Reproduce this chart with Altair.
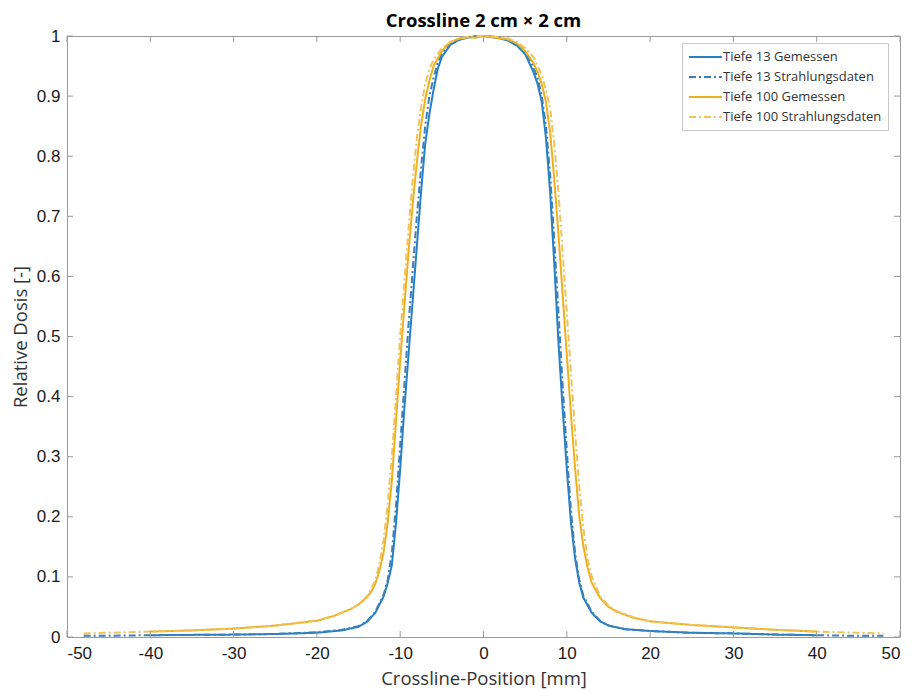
import altair as alt
import pandas as pd

title_text = "Crossline 2 cm × 2 cm"
x_title = "Crossline-Position [mm]"
y_title = "Relative Dosis [-]"

series_names = ["Tiefe 13 Gemessen", "Tiefe 13 Strahlungsdaten",
                "Tiefe 100 Gemessen", "Tiefe 100 Strahlungsdaten"]
series_colors = ["#2580c6", "#3d80b8", "#edb120", "#f0c25a"]

x_ticks = [-50, -40, -30, -20, -10, 0, 10, 20, 30, 40, 50]
y_ticks = [0, 0.1, 0.2, 0.3, 0.4, 0.5, 0.6, 0.7, 0.8, 0.9, 1]

# Tiefe 13 Gemessen
t13_mess_x = [-40, -30, -25, -20, -17, -15, -14, -13, -12, -11.5, -11, -10.5, -10, -9.5, -9, -8.5,
              -8, -7.5, -7, -6.5, -6, -5.5, -5, -4, -3, -2, -1, 0, 1, 2, 3, 4, 5, 5.5, 6, 6.5,
              7, 7.5, 8, 8.5, 9, 9.5, 10, 10.5, 11, 11.5, 12, 13, 14, 15, 17, 20, 25, 30, 35, 40]
t13_mess_y = [0.003, 0.004, 0.005, 0.007, 0.011, 0.017, 0.025, 0.04, 0.067, 0.09, 0.12, 0.19, 0.28, 0.38, 0.47, 0.56,
              0.65, 0.74, 0.82, 0.87, 0.91, 0.945, 0.965, 0.985, 0.993, 0.997, 0.999, 1.0, 0.998, 0.996, 0.992, 0.984, 0.97, 0.955, 0.94, 0.92,
              0.89, 0.83, 0.74, 0.62, 0.49, 0.38, 0.28, 0.19, 0.13, 0.09, 0.065, 0.04, 0.026, 0.019, 0.013, 0.01, 0.007, 0.006, 0.004, 0.003]

# Tiefe 13 Strahlungsdaten
t13_calc_x = [-48, -45, -40, -30, -25, -20, -17, -15, -14, -13, -12, -11.5, -11, -10.5, -10, -9.5, -9, -8.5,
              -8, -7.5, -7, -6.5, -6, -5.5, -5, -4, -3, -2, -1, 0, 1, 2, 3, 4, 5, 5.5, 6, 6.5,
              7, 7.5, 8, 8.5, 9, 9.5, 10, 10.5, 11, 11.5, 12, 13, 14, 15, 17, 20, 25, 30, 35, 40, 45, 48]
t13_calc_y = [0.002, 0.002, 0.003, 0.004, 0.005, 0.008, 0.012, 0.018, 0.026, 0.042, 0.07, 0.095, 0.14, 0.22, 0.32, 0.42, 0.52, 0.61,
              0.7, 0.78, 0.85, 0.9, 0.93, 0.955, 0.97, 0.988, 0.995, 0.998, 1.0, 1.0, 0.999, 0.997, 0.994, 0.987, 0.974, 0.962, 0.948, 0.93,
              0.9, 0.85, 0.77, 0.66, 0.54, 0.42, 0.31, 0.21, 0.14, 0.095, 0.068, 0.042, 0.027, 0.019, 0.013, 0.01, 0.007, 0.006, 0.004, 0.003, 0.002, 0.002]

# Tiefe 100 Gemessen
t100_mess_x = [-40, -35, -30, -25, -20, -18, -16, -15, -14, -13.5, -13, -12.5, -12, -11.5, -11, -10.5, -10, -9.5,
               -9, -8.5, -8, -7.5, -7, -6.5, -6, -5, -4, -3, -2, -1, 0, 1, 2, 3, 4, 5, 6, 6.5,
               7, 7.5, 8, 8.5, 9, 9.5, 10, 10.5, 11, 11.5, 12, 12.5, 13, 14, 15, 16, 18, 20, 25, 30, 35, 40]
t100_mess_y = [0.009, 0.011, 0.014, 0.019, 0.027, 0.035, 0.046, 0.054, 0.066, 0.075, 0.088, 0.11, 0.14, 0.19, 0.26, 0.36, 0.46, 0.55,
               0.64, 0.72, 0.79, 0.85, 0.895, 0.925, 0.95, 0.975, 0.99, 0.995, 0.998, 0.997, 1.0, 0.998, 0.996, 0.994, 0.988, 0.975, 0.955, 0.94,
               0.92, 0.89, 0.84, 0.76, 0.67, 0.57, 0.47, 0.37, 0.28, 0.2, 0.15, 0.115, 0.09, 0.065, 0.05, 0.042, 0.032, 0.026, 0.02, 0.016, 0.012, 0.009]

# Tiefe 100 Strahlungsdaten
t100_calc_x = [-48, -45, -40, -35, -30, -25, -20, -18, -16, -15, -14, -13.5, -13, -12.5, -12, -11.5, -11, -10.5, -10, -9.5,
               -9, -8.5, -8, -7.5, -7, -6.5, -6, -5, -4, -3, -2, -1, 0, 1, 2, 3, 4, 5, 6, 6.5,
               7, 7.5, 8, 8.5, 9, 9.5, 10, 10.5, 11, 11.5, 12, 12.5, 13, 14, 15, 16, 18, 20, 25, 30, 35, 40, 45, 48]
t100_calc_y = [0.006, 0.007, 0.009, 0.011, 0.014, 0.019, 0.028, 0.035, 0.046, 0.054, 0.068, 0.079, 0.095, 0.12, 0.16, 0.22, 0.3, 0.4, 0.5, 0.59,
               0.68, 0.76, 0.83, 0.88, 0.92, 0.945, 0.96, 0.98, 0.99, 0.996, 0.998, 1.0, 1.0, 0.999, 0.998, 0.996, 0.99, 0.98, 0.965, 0.95,
               0.935, 0.91, 0.88, 0.82, 0.74, 0.64, 0.54, 0.44, 0.34, 0.25, 0.18, 0.13, 0.1, 0.068, 0.052, 0.043, 0.033, 0.026, 0.02, 0.016, 0.012, 0.009, 0.007, 0.006]

rows = []
for name, xs, ys in [
    (series_names[0], t13_mess_x, t13_mess_y),
    (series_names[1], t13_calc_x, t13_calc_y),
    (series_names[2], t100_mess_x, t100_mess_y),
    (series_names[3], t100_calc_x, t100_calc_y),
]:
    for xv, yv in zip(xs, ys):
        rows.append({"series": name, "x": xv, "y": yv})
df = pd.DataFrame(rows)

xt_df = pd.DataFrame({"x": x_ticks})
yt_df = pd.DataFrame({"y": y_ticks})

W, H = 833, 601
frame_color = "#9a9a9a"
tick_len = 6

xscale = alt.Scale(domain=[-50, 50], nice=False, zero=False)
yscale = alt.Scale(domain=[0, 1], nice=False, zero=False)

x_axis = alt.Axis(values=x_ticks, title=x_title, labelExpr="'' + datum.value",
                  labelPadding=8, titleY=41, titleBaseline="middle")
y_axis = alt.Axis(values=y_ticks, title=y_title, labelExpr="'' + datum.value",
                  labelPadding=7, titleX=-47, titleBaseline="middle")

leg = alt.Legend(title=None, orient="none", legendX=615, legendY=7)

lines = alt.Chart(df).mark_line(strokeWidth=2).encode(
    x=alt.X("x:Q", scale=xscale, axis=x_axis),
    y=alt.Y("y:Q", scale=yscale, axis=y_axis),
    color=alt.Color("series:N", scale=alt.Scale(domain=series_names, range=series_colors), legend=leg),
    strokeDash=alt.StrokeDash("series:N",
                              scale=alt.Scale(domain=series_names,
                                              range=[[1, 0], [7, 3, 2, 3], [1, 0], [7, 3, 2, 3]]),
                              legend=leg),
    detail="series:N",
)

bottom_ticks = alt.Chart(xt_df).mark_rule(color=frame_color, strokeWidth=1).encode(
    x=alt.X("x:Q", scale=xscale, axis=x_axis), y=alt.value(H), y2=alt.value(H - tick_len))
top_ticks = alt.Chart(xt_df).mark_rule(color=frame_color, strokeWidth=1).encode(
    x=alt.X("x:Q", scale=xscale, axis=x_axis), y=alt.value(0), y2=alt.value(tick_len))
left_ticks = alt.Chart(yt_df).mark_rule(color=frame_color, strokeWidth=1).encode(
    y=alt.Y("y:Q", scale=yscale, axis=y_axis), x=alt.value(0), x2=alt.value(tick_len))
right_ticks = alt.Chart(yt_df).mark_rule(color=frame_color, strokeWidth=1).encode(
    y=alt.Y("y:Q", scale=yscale, axis=y_axis), x=alt.value(W), x2=alt.value(W - tick_len))

chart = alt.layer(lines, bottom_ticks, top_ticks, left_ticks, right_ticks).properties(
    width=W, height=H,
    title=alt.TitleParams(title_text, font="Open Sans", fontSize=18.5, fontWeight="bold",
                          color="#000000", anchor="middle", offset=-3),
    autosize=alt.AutoSizeParams(type="none"),
    padding={"left": 59, "top": 28, "right": 2, "bottom": 52},
).configure_view(
    stroke=frame_color, strokeWidth=1
).configure_axis(
    domain=False, ticks=False, grid=False,
    labelFont="Liberation Sans", labelFontSize=17, labelColor="#1a1a1a",
    titleFont="Open Sans", titleFontSize=18.5, titleFontWeight="normal", titleColor="#333333",
).configure_legend(
    symbolType="M-1,0H3.7", symbolSize=196, symbolStrokeWidth=2,
    labelFont="Open Sans", labelFontSize=13, labelColor="#333333", labelOffset=19,
    padding=6, rowPadding=5, fillColor="white", strokeColor="#c8c8c8",
)

chart.save("out.html", embed_options={"renderer": "svg", "actions": False})
